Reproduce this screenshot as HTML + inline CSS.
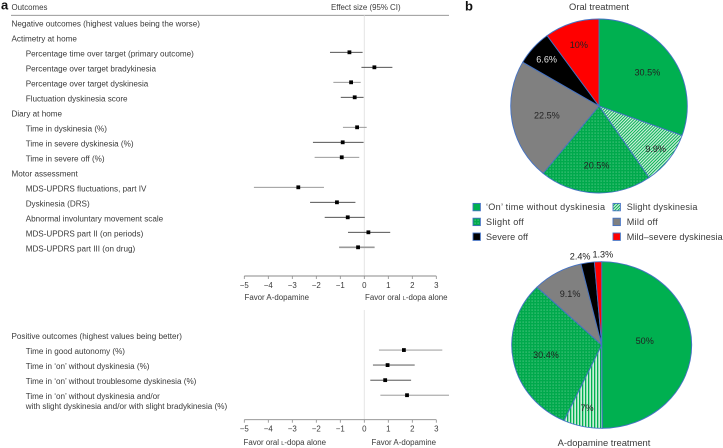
<!DOCTYPE html>
<html lang="en">
<head>
<meta charset="utf-8">
<title>A-dopamine forest plot and pie charts</title>
<style>
html,body{margin:0;padding:0;background:#fff;}
svg{display:block;}
text{font-family:"Liberation Sans",sans-serif;fill:#3a3a3a;font-size:7.9px;}
.panel{font-weight:bold;font-size:13px;fill:#111;}
.row{font-size:8.12px;}
.big{font-size:9.4px;}
.legend-text{font-size:9.1px;}
.pct{font-size:9.1px;fill:#222;}
.pct-light{fill:#e4e4e4;}
.ci-dark{stroke:#3c3c3c;stroke-width:0.9;}
.ci-grey{stroke:#8c8c8c;stroke-width:0.9;}
.ci-thick{stroke:#9a9a9a;stroke-width:1.6;}
</style>
</head>
<body>
<svg id="chart" xmlns="http://www.w3.org/2000/svg" width="723" height="448" viewBox="0 0 723 448">
<defs>
<pattern id="p-diag" patternUnits="userSpaceOnUse" width="2.2" height="2.2" patternTransform="rotate(-45)">
<rect width="2.2" height="2.2" fill="#d4f0df"/><rect width="2.2" height="1" fill="#00B050"/>
</pattern>
<pattern id="p-vert" patternUnits="userSpaceOnUse" width="3" height="3">
<rect width="3" height="3" fill="#c9efd8"/><rect width="1.3" height="3" fill="#00B050"/>
</pattern>
<pattern id="p-dots" patternUnits="userSpaceOnUse" width="3" height="3">
<rect width="3" height="3" fill="#00A94C"/><rect x="0.6" y="0.6" width="1" height="1" fill="#6fd39a"/>
</pattern>
</defs>
<g id="forest"></g>
<g id="pies"></g>
<g id="legend"></g>
</svg>
<script>
// ----- forest plot data -----
const negativeLabels = [
  "Negative outcomes (highest values being the worse)",
  "Actimetry at home",
  "Percentage time over target (primary outcome)",
  "Percentage over target bradykinesia",
  "Percentage over target dyskinesia",
  "Fluctuation dyskinesia score",
  "Diary at home",
  "Time in dyskinesia (%)",
  "Time in severe dyskinesia (%)",
  "Time in severe off (%)",
  "Motor assessment",
  "MDS-UPDRS fluctuations, part IV",
  "Dyskinesia (DRS)",
  "Abnormal involuntary movement scale",
  "MDS-UPDRS part II (on periods)",
  "MDS-UPDRS part III (on drug)"
];
const negativeEstimate = [null,null,-0.62,0.42,-0.55,-0.4,null,-0.3,-0.9,-0.94,null,-2.75,-1.14,-0.69,0.17,-0.26];
const negativeLower = [null,null,-1.43,-0.12,-1.29,-0.98,null,-0.89,-2.14,-2.07,null,-4.6,-2.26,-1.65,-0.68,-1.05];
const negativeUpper = [null,null,-0.07,1.17,-0.15,-0.03,null,0.1,-0.03,-0.21,null,-1.68,-0.37,0.02,1.08,0.43];
const positiveLabels = [
  "Positive outcomes (highest values being better)",
  "Time in good autonomy (%)",
  "Time in ‘on’ without dyskinesia (%)",
  "Time in ‘on’ without troublesome dyskinesia (%)",
  "Time in ‘on’ without dyskinesia and/or"
];
const positiveEstimate = [null,1.65,0.97,0.87,1.78];
const positiveLower = [null,0.61,0.36,0.25,0.67];
const positiveUpper = [null,3.25,2.1,1.95,3.53];
const axisTicks = [-5,-4,-3,-2,-1,0,1,2,3];
const pieSliceNames = ["on-without-dyskinesia","slight-dyskinesia","slight-off","mild-off","severe-off","mild-severe-dyskinesia"];
const oralValues = [30.5,9.9,20.5,22.5,6.6,10];
const oralLabels = ["30.5%","9.9%","20.5%","22.5%","6.6%","10%"];
const adopaValues = [50,7,30.4,9.1,2.4,1.3];
const adopaLabels = ["50%","7%","30.4%","9.1%","2.4%","1.3%"];
const legendNames = ["‘On’ time without dyskinesia","Slight dyskinesia","Slight off","Mild off","Severe off","Mild–severe dyskinesia"];

// ----- styling kept apart from the data -----
const negativeLineClass = ["","","ci-dark","ci-dark","ci-grey","ci-dark","","ci-grey","ci-dark","ci-grey","","ci-grey","ci-dark","ci-dark","ci-dark","ci-thick"];
const positiveLineClass = ["","ci-grey","ci-thick","ci-dark","ci-grey"];
const oralFills = ["#00B050","url(#p-diag)","url(#p-dots)","#808080","#000000","#FF0000"];
const adopaFills = ["#00B050","url(#p-vert)","url(#p-dots)","#808080","#000000","#FF0000"];
const legendFills = ["#00B050","url(#p-diag)","url(#p-dots)","#808080","#000000","#FF0000"];
const oralLabelRadial = [0.67,0.81,0.68,0.6,0.8,0.74];
const oralLabelNudge = [0,0,0,0,0,0];
const adopaLabelRadial = [0.48,0.77,0.63,0.71,1.09,1.09];
const adopaLabelNudge = [-5.6,0,0,0,-3.7,3];
const legendTextFit = [119,70.7,37.7,31,42,96];

const NS = "http://www.w3.org/2000/svg";
const forest = document.getElementById("forest");
const pies = document.getElementById("pies");
const legend = document.getElementById("legend");

function make(parent, tag, attrs, content) {
  const el = document.createElementNS(NS, tag);
  for (const k in attrs) el.setAttribute(k, attrs[k]);
  if (content !== undefined) el.textContent = content;
  parent.appendChild(el);
  return el;
}
function xScale(v) { return 364.3 + v * 24; }
function rowNeg(i) { return 22.3 + i * 15; }
function rowPos(i) { return 335 + i * 15.05; }
function tickText(t) { return t < 0 ? "−" + Math.abs(t) : String(t); }

function addText(parent, x, y, str, name, cls, anchor) {
  const attrs = { x: x, y: y };
  if (cls) attrs["class"] = cls;
  if (anchor) attrs["text-anchor"] = anchor;
  const t = make(parent, "text", attrs, str);
  
  
  return t;
}
function addFavor(parent, x, y, before, after, name) {
  const t = make(parent, "text", { x: x, y: y });
  
  
  t.appendChild(document.createTextNode(before));
  make(t, "tspan", { "font-size": "5.6" }, "L");
  t.appendChild(document.createTextNode(after));
}
function slug(s) {
  return s.toLowerCase().replace(/[^a-z0-9]+/g, "-").replace(/^-|-$/g, "");
}

// header
addText(forest, 1, 9.5, "a", "panel-a-label", "panel");
addText(forest, 11.5, 10, "Outcomes", "outcomes-column-title");
addText(forest, 331, 10, "Effect size (95% CI)", "effect-size-column-title");
const headerRule = make(forest, "line", { x1: 11, x2: 449, y1: 15.3, y2: 15.3, stroke: "#8a8a8a", "stroke-width": 0.8 });



// reference lines at zero
const zeroTop = make(forest, "line", { x1: xScale(0), x2: xScale(0), y1: 15.3, y2: 276, stroke: "#e2e2e2", "stroke-width": 0.9 });


const zeroBottom = make(forest, "line", { x1: xScale(0), x2: xScale(0), y1: 310, y2: 420, stroke: "#e2e2e2", "stroke-width": 0.9 });



function drawRows(labels, est, lo, hi, cls, rowFn) {
  labels.forEach(function (label, i) {
    const isHeader = est[i] === null;
    const tx = isHeader ? 11.5 : 25.7;
    addText(forest, tx, rowFn(i) + 4, label, slug(label) + "-label", "row");
    if (isHeader) return;
    const y = rowFn(i);
    const ci = make(forest, "line", { x1: xScale(lo[i]), x2: xScale(hi[i]), y1: y, y2: y, "class": cls[i] });
    
    
    const m = make(forest, "rect", { x: xScale(est[i]) - 1.9, y: y - 1.9, width: 3.8, height: 3.8, fill: "#000" });
    
    
  });
}
drawRows(negativeLabels, negativeEstimate, negativeLower, negativeUpper, negativeLineClass, rowNeg);
drawRows(positiveLabels, positiveEstimate, positiveLower, positiveUpper, positiveLineClass, rowPos);
addText(forest, 25.7, 408.8, "with slight dyskinesia and/or with slight bradykinesia (%)", "time-in-on-label-second-line", "row");

function drawAxis(y, name) {
  const ax = make(forest, "line", { x1: xScale(axisTicks[0]), x2: xScale(axisTicks[axisTicks.length - 1]), y1: y, y2: y, stroke: "#8a8a8a", "stroke-width": 0.9 });
  
  
  axisTicks.forEach(function (t) {
    const tk = make(forest, "line", { x1: xScale(t), x2: xScale(t), y1: y, y2: y + 3, stroke: "#8a8a8a", "stroke-width": 0.8 });
    
    
    addText(forest, xScale(t), y + 12, tickText(t), "axis-tick-label", null, "middle");
  });
}
drawAxis(276, "x-axis-negative");
drawAxis(419.7, "x-axis-positive");

addText(forest, 244.5, 300, "Favor A-dopamine", "favor-a-dopamine-top");
addFavor(forest, 365, 300, "Favor oral ", "-dopa alone", "favor-oral-top");
addFavor(forest, 243.5, 445, "Favor oral ", "-dopa alone", "favor-oral-bottom");
addText(forest, 371.5, 445, "Favor A-dopamine", "favor-a-dopamine-bottom");

// ----- pies -----
function drawPie(values, texts, fills, radial, nudge, cx, cy, rx, ry, name) {
  const g = make(pies, "g", {});
  
  
  const total = values.reduce(function (a, b) { return a + b; }, 0);
  let cum = 0;
  const pt = function (deg, f) {
    const a = deg * Math.PI / 180;
    return [cx + f * rx * Math.sin(a), cy - f * ry * Math.cos(a)];
  };
  values.forEach(function (v, i) {
    const a0 = cum / total * 360;
    const a1 = (cum + v) / total * 360;
    const p0 = pt(a0, 1), p1 = pt(a1, 1);
    const large = (a1 - a0) > 180 ? 1 : 0;
    const d = "M" + cx + " " + cy + "L" + p0[0] + " " + p0[1] + "A" + rx + " " + ry + " 0 " + large + " 1 " + p1[0] + " " + p1[1] + "Z";
    const s = make(g, "path", { d: d, fill: fills[i], stroke: "#4472C4", "stroke-width": 0.9, "stroke-linejoin": "round" });
    
    
    cum += v;
  });
  cum = 0;
  values.forEach(function (v, i) {
    const mid = (cum + v / 2) / total * 360 + nudge[i];
    const p = pt(mid, radial[i]);
    const inBlack = fills[i] === "#000000" && radial[i] < 1;
    addText(g, p[0], p[1] + 3.2, texts[i], "slice-label-" + pieSliceNames[i], inBlack ? "pct pct-light" : "pct", "middle");
    cum += v;
  });
}
addText(pies, 465, 10.5, "b", "panel-b-label", "panel");
addText(pies, 599, 10, "Oral treatment", "oral-treatment-title", "big", "middle");
drawPie(oralValues, oralLabels, oralFills, oralLabelRadial, oralLabelNudge, 599, 106, 88.3, 87, "oral-treatment-pie");
drawPie(adopaValues, adopaLabels, adopaFills, adopaLabelRadial, adopaLabelNudge, 601.7, 345, 90, 83.3, "a-dopamine-treatment-pie");
addText(pies, 604, 446, "A-dopamine treatment", "a-dopamine-treatment-title", "big", "middle");

// ----- legend -----
legendNames.forEach(function (n, i) {
  const col = i % 2, row = Math.floor(i / 2);
  const sx = col === 0 ? 473 : 613;
  const tx = col === 0 ? 486 : 626.7;
  const y = 207 + row * 14.8;
  const r = make(legend, "rect", { x: sx, y: y - 3.6, width: 7.4, height: 7.4, fill: legendFills[i], stroke: "#4472C4", "stroke-width": 0.9 });
  
  
  const t = addText(legend, tx, y + 3.2, n, "legend-label-" + pieSliceNames[i], "legend-text");
  t.setAttribute("textLength", legendTextFit[i]);
  t.setAttribute("lengthAdjust", "spacing");
});
</script>
</body>
</html>
